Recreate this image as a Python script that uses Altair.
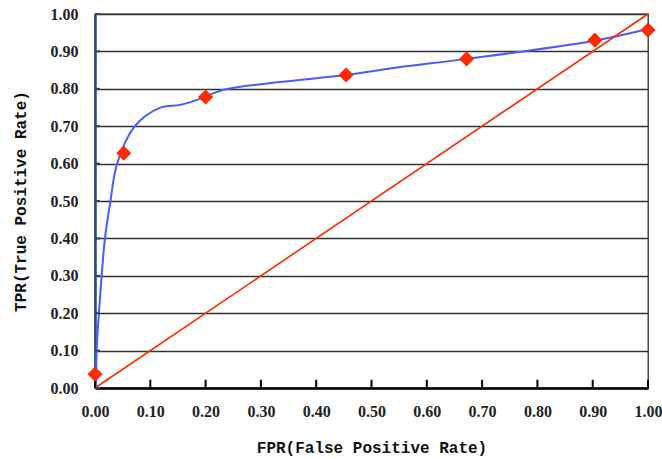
import altair as alt
import pandas as pd

# Marker points (FPR, TPR)
pt_fpr = [0.0, 0.052, 0.20, 0.454, 0.672, 0.904, 1.0]
pt_tpr = [0.037, 0.628, 0.778, 0.837, 0.880, 0.930, 0.957]

# Smooth blue curve
cv_fpr = [0.002, 0.003, 0.007, 0.012, 0.018, 0.028, 0.040, 0.072, 0.117, 0.154,
          0.190, 0.231, 0.334, 0.454, 0.552, 0.672, 0.900, 1.0]
cv_tpr = [0.0, 0.10, 0.20, 0.30, 0.40, 0.50, 0.60, 0.700, 0.749, 0.757,
          0.773, 0.797, 0.818, 0.837, 0.858, 0.880, 0.928, 0.960]

diag = [0.0, 1.0]
ticks = [round(i / 10, 2) for i in range(11)]

pts = pd.DataFrame({"fpr": pt_fpr, "tpr": pt_tpr})
curve = pd.DataFrame({"fpr": cv_fpr, "tpr": cv_tpr, "o": list(range(len(cv_fpr)))})
dg = pd.DataFrame({"fpr": diag, "tpr": diag})
tk = pd.DataFrame({"v": ticks})

xs = alt.Scale(domain=[0, 1], nice=False, zero=False)
ys = alt.Scale(domain=[0, 1], nice=False, zero=False)

label_font = "Liberation Serif"
title_font = "Liberation Mono"

xaxis = alt.Axis(values=ticks, format=".2f", grid=False, ticks=False,
                 domainColor="#000000", domainWidth=2.5, labelOverlap=False,
                 labelFont=label_font, labelFontWeight="bold", labelFontSize=16,
                 labelColor="#222222", labelPadding=15, labelFlush=False,
                 title="FPR(False Positive Rate)", titleFont=title_font,
                 titleFontSize=16, titleFontWeight="bold", titleColor="#111111",
                 titlePadding=20)
yaxis = alt.Axis(values=ticks, format=".2f", grid=True, gridColor="#333333",
                 gridWidth=1.3, gridOpacity=1, ticks=False, labelOverlap=False,
                 domainColor="#1f4e79", domainWidth=2.5,
                 labelFont=label_font, labelFontWeight="bold", labelFontSize=16,
                 labelColor="#222222", labelPadding=17, labelFlush=False,
                 title="TPR(True Positive Rate)", titleFont=title_font,
                 titleFontSize=16, titleFontWeight="bold", titleColor="#111111",
                 titlePadding=22)

line = alt.Chart(curve).mark_line(color="#4a5cff", strokeWidth=2,
                                  interpolate="catmull-rom").encode(
    x=alt.X("fpr:Q", scale=xs, axis=xaxis),
    y=alt.Y("tpr:Q", scale=ys, axis=yaxis),
    order="o:Q")

dline = alt.Chart(dg).mark_line(color="#ff2a00", strokeWidth=1.6).encode(
    x=alt.X("fpr:Q", scale=xs, axis=xaxis), y=alt.Y("tpr:Q", scale=ys, axis=yaxis))

xt = alt.Chart(tk).mark_rule(color="#000000", strokeWidth=2).encode(
    x=alt.X("v:Q", scale=xs, axis=xaxis),
    y=alt.datum(0, scale=ys, axis=yaxis),
    y2=alt.datum(0.022))
yt = alt.Chart(tk).mark_rule(color="#1f4e79", strokeWidth=2).encode(
    y=alt.Y("v:Q", scale=ys, axis=yaxis),
    x=alt.datum(0, scale=xs, axis=xaxis),
    x2=alt.datum(0.009))

pts_l = alt.Chart(pts).mark_point(shape="diamond", filled=True, color="#ff2a00",
                                  size=230, opacity=1).encode(
    x=alt.X("fpr:Q", scale=xs, axis=xaxis), y=alt.Y("tpr:Q", scale=ys, axis=yaxis))

chart = alt.layer(line, dline, xt, yt, pts_l).properties(
    width=553, height=374,
    autosize=alt.AutoSizeParams(type="none"),
    padding={"left": 95, "top": 14, "right": 14, "bottom": 71},
    background="white",
).configure_view(stroke="#333333", strokeWidth=1.3)

chart.save("out.html", embed_options={"renderer": "svg", "actions": False})
